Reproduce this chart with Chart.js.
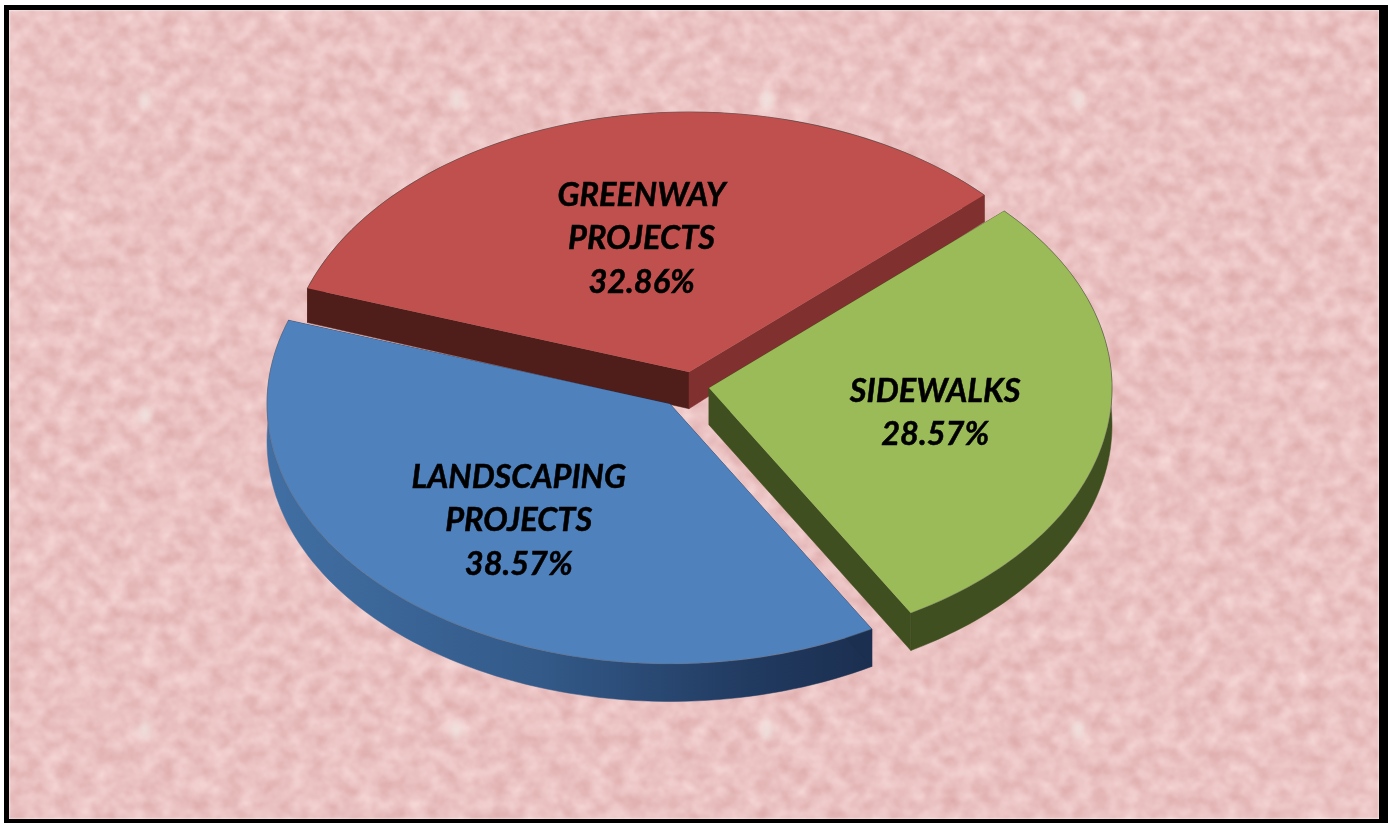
<!DOCTYPE html>
<html>
<head>
<meta charset="utf-8">
<title>Project funding shares</title>
<script src="https://cdn.jsdelivr.net/npm/chart.js@4/dist/chart.umd.js"></script>
<style>
  html, body { margin: 0; padding: 0; background: #fff; width: 1388px; height: 823px; overflow: hidden; }
  #frame { position: absolute; left: 4px; top: 5px; width: 1370px; height: 809px; border: solid #000; border-width: 5px 9px 4px 5px; overflow: hidden; }
  #paper { position: absolute; left: 0; top: 0; width: 1370px; height: 809px; }
  #stage { position: absolute; left: -9px; top: -10px; width: 1388px; height: 823px; }
</style>
</head>
<body>
<div id="frame">
  <svg id="paper" xmlns="http://www.w3.org/2000/svg">
    <defs>
      <filter id="grain" x="0" y="0" width="100%" height="100%" color-interpolation-filters="sRGB">
        <feTurbulence type="fractalNoise" baseFrequency="0.06 0.065" numOctaves="4" seed="7"/>
        <feColorMatrix type="matrix" values="0.12 0 0 0 0.86  0.22 0 0 0 0.65  0.22 0 0 0 0.65  0 0 0 0 1"/>
        <feGaussianBlur stdDeviation="0.8"/>
      </filter>
      <filter id="soft" x="-100%" y="-100%" width="300%" height="300%"><feGaussianBlur stdDeviation="3"/></filter>
      <pattern id="spots" width="311" height="315" patternUnits="userSpaceOnUse" x="-20" y="-10">
        <ellipse cx="156" cy="100" rx="7" ry="10" fill="#f0e4e0" fill-opacity="0.8" filter="url(#soft)"/>
      </pattern>
    </defs>
    <rect width="1370" height="809" filter="url(#grain)"/>
    <rect width="1370" height="809" fill="url(#spots)"/>
  </svg>
  <div id="stage"><canvas id="pie" width="1388" height="823"></canvas></div>
</div>
<script>
// Share of spending per project type
const categories = ['GREENWAY PROJECTS', 'SIDEWALKS', 'LANDSCAPING PROJECTS'];
const labelLines = [['GREENWAY', 'PROJECTS'], ['SIDEWALKS'], ['LANDSCAPING', 'PROJECTS']];
const shares = [32.86, 28.57, 38.57];

const topColors = ['#c0504d', '#9bbb59', '#4f81bd'];
const startFaceColors = ['#4f1e1b', '#3f4f1f', '#1b2f50'];
const endFaceColors = ['#80312f', '#3f4f1f', '#1b2f50'];
const wallColors = ['#4f1e1b', '#3f4f1f', null];

const TILT = 0.645;            // vertical squash of the disc
const CENTER_X = 688;
const CENTER_Y = 388;
const EXPLODE = [[1, -16], [21, 0], [-18, 16]]; // on-screen slice displacement
const LABEL_RADIUS = [0.54, 0.56, 0.58];
const LABEL_NUDGE = [[-2, 4], [3, 3.5], [-3, 0]];
const LINE_STEP = 43.5;

// The far side of the disc recedes, so its wall looks shallower.
function wallDepth(y) {
  const t = Math.max(0, Math.min(1, (630 - y) / 435));
  return 37.5 - 10.5 * Math.pow(t, 5);
}

function rimPoint(arc, angle) {
  const flatY = CENTER_Y + (arc.y - CENTER_Y) * TILT;
  return {
    x: arc.x + arc.outerRadius * Math.cos(angle),
    y: flatY + arc.outerRadius * Math.sin(angle) * TILT
  };
}

function apexPoint(arc) {
  return { x: arc.x, y: CENTER_Y + (arc.y - CENTER_Y) * TILT };
}

function fillBand(ctx, points, fill) {
  ctx.beginPath();
  points.forEach((p, i) => i ? ctx.lineTo(p.x, p.y) : ctx.moveTo(p.x, p.y));
  for (let i = points.length - 1; i >= 0; i--) {
    ctx.lineTo(points[i].x, points[i].y + wallDepth(points[i].y));
  }
  ctx.closePath();
  ctx.fillStyle = fill;
  ctx.fill();
  ctx.strokeStyle = fill;
  ctx.lineWidth = 0.5;
  ctx.stroke();
}

function rimPoints(arc) {
  const pts = [];
  const steps = 90;
  for (let i = 0; i <= steps; i++) {
    pts.push(rimPoint(arc, arc.startAngle + (arc.endAngle - arc.startAngle) * i / steps));
  }
  return pts;
}

const disc3d = {
  id: 'disc3d',
  afterDatasetsUpdate(chart) {
    chart.getDatasetMeta(0).data.forEach((arc, i) => {
      arc.x = CENTER_X + EXPLODE[i][0];
      arc.y = CENTER_Y + EXPLODE[i][1] / TILT;
    });
  },
  beforeDatasetsDraw(chart) {
    const ctx = chart.ctx;
    const arcs = chart.getDatasetMeta(0).data;
    arcs.forEach((arc, i) => {
      const apex = apexPoint(arc);
      const rim = rimPoints(arc);
      let wall = wallColors[i];
      if (!wall) {
        wall = ctx.createLinearGradient(arc.x - arc.outerRadius, 0, rim[0].x, 0);
        wall.addColorStop(0, '#416fa3');
        wall.addColorStop(0.45, '#335a89');
        wall.addColorStop(0.8, '#213a60');
        wall.addColorStop(1, '#1b2f50');
      }
      fillBand(ctx, rim, wall);
      fillBand(ctx, [apex, rim[0]], startFaceColors[i]);
      fillBand(ctx, [apex, rim[rim.length - 1]], endFaceColors[i]);
    });
    // Squash the library's arcs into the tilted disc
    ctx.save();
    ctx.translate(0, CENTER_Y);
    ctx.scale(1, TILT);
    ctx.translate(0, -CENTER_Y);
  },
  afterDatasetsDraw(chart) {
    const ctx = chart.ctx;
    ctx.restore();
    const arcs = chart.getDatasetMeta(0).data;
    arcs.forEach((arc, i) => {
      // Thin grey line along the rim
      ctx.beginPath();
      rimPoints(arc).forEach((p, j) => j ? ctx.lineTo(p.x, p.y) : ctx.moveTo(p.x, p.y));
      ctx.strokeStyle = 'rgba(95,95,95,0.4)';
      ctx.lineWidth = 1;
      ctx.stroke();

      // Category name and share
      const mid = (arc.startAngle + arc.endAngle) / 2;
      const apex = apexPoint(arc);
      const r = arc.outerRadius * LABEL_RADIUS[i];
      const cx = apex.x + r * Math.cos(mid) + LABEL_NUDGE[i][0];
      const cy = apex.y + r * Math.sin(mid) * TILT + LABEL_NUDGE[i][1];
      const lines = labelLines[i].concat(shares[i].toFixed(2) + '%');
      ctx.fillStyle = '#000';
      ctx.strokeStyle = '#000';
      ctx.lineWidth = 0.5;
      ctx.font = 'italic 700 32.5px Lato';
      ctx.textAlign = 'center';
      ctx.textBaseline = 'middle';
      lines.forEach((line, j) => {
        const ty = cy + (j - (lines.length - 1) / 2) * LINE_STEP;
        ctx.fillText(line, cx, ty);
        ctx.strokeText(line, cx, ty);
      });
    });
  }
};

new Chart(document.getElementById('pie'), {
  type: 'pie',
  data: {
    labels: categories,
    datasets: [{
      data: shares,
      backgroundColor: topColors,
      borderWidth: 0,
      radius: 403
    }]
  },
  options: {
    responsive: false,
    animation: false,
    events: [],
    rotation: -71.2,
    plugins: { legend: { display: false }, tooltip: { enabled: false } }
  },
  plugins: [disc3d]
});
</script>
</body>
</html>
